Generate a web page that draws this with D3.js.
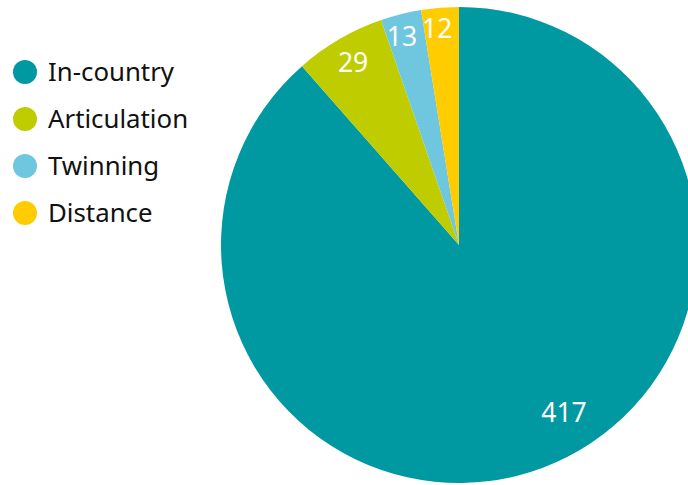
<!DOCTYPE html>
<html><head><meta charset="utf-8">
<script src="https://cdn.jsdelivr.net/npm/d3@7"></script>
<style>html,body{margin:0;padding:0;background:#fff;}svg{display:block;}</style>
</head><body>
<svg id="chart" width="688" height="485"></svg>
<script>
const categories = ["In-country", "Articulation", "Twinning", "Distance"];
const values = [417, 29, 13, 12];
const colors = ["#0098A1", "#BFCD00", "#6FC6DF", "#FFCC00"];

const svg = d3.select("#chart");
const cx = 459, cy = 245, R = 238;
const font = "'Noto Sans', 'Open Sans', sans-serif";

const pie = d3.pie().sort(null).value(d => d)(values);
const arc = d3.arc().innerRadius(0).outerRadius(R);

const g = svg.append("g").attr("transform", `translate(${cx},${cy})`);
g.selectAll("path").data(pie).join("path")
  .attr("d", arc)
  .attr("fill", (d, i) => colors[i]);

// label placement (layout): radius fraction and angle shift for each slice
const labelLayout = [{r: 0.83, shift: -0.2}, {r: 0.885, shift: 0}, {r: 0.91, shift: -0.02}, {r: 0.915, shift: -0.02}];
g.selectAll("text.lbl").data(pie).join("text")
  .attr("class", "lbl")
  .attr("transform", (d, i) => {
    const a = (d.startAngle + d.endAngle) / 2 + labelLayout[i].shift;
    const r = R * labelLayout[i].r;
    return `translate(${r * Math.sin(a)},${-r * Math.cos(a)})`;
  })
  .attr("text-anchor", "middle")
  .attr("dy", "0.36em")
  .attr("fill", "#fff")
  .attr("font-family", font)
  .attr("font-size", 26.5)
  .text(d => d.data);

const legend = svg.append("g");
const y = d3.scalePoint().domain(categories).range([72, 213]);
const items = legend.selectAll("g").data(categories).join("g")
  .attr("transform", d => `translate(0,${y(d)})`);
items.append("circle").attr("cx", 25).attr("cy", 0).attr("r", 12)
  .attr("fill", (d, i) => colors[i]);
items.append("text").attr("x", 48).attr("dy", "0.36em")
  .attr("font-family", font).attr("font-size", 25.8).attr("fill", "#111")
  .text(d => d);
</script>
</body></html>
